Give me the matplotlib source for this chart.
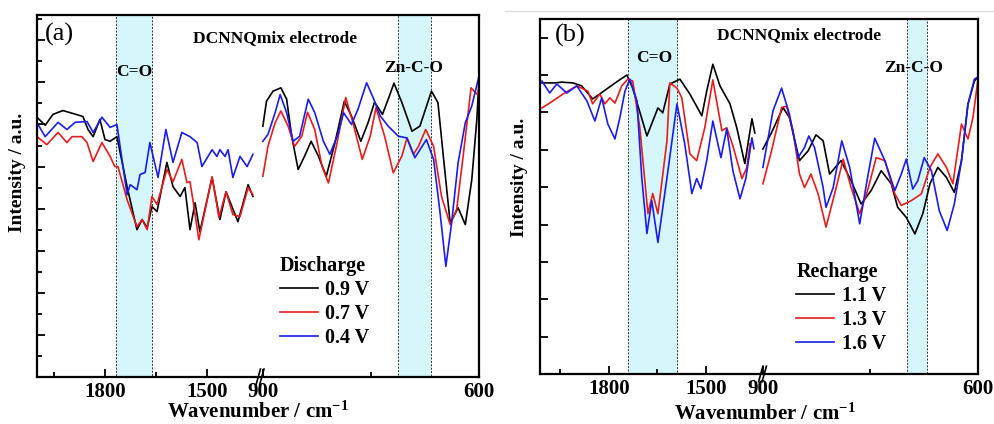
import numpy as np
import matplotlib
matplotlib.use('Agg')
import matplotlib.pyplot as plt
from matplotlib.lines import Line2D
from matplotlib.ticker import FixedLocator, NullFormatter

# ---- panel (a): discharge ----
a_black_lw = [2000, 1976, 1953, 1924, 1894, 1865, 1850, 1835, 1815, 1800, 1785, 1765, 1735, 1706, 1691,
              1676, 1662, 1647, 1618, 1600, 1579, 1565, 1550, 1535, 1521, 1485, 1462, 1444, 1409, 1379, 1365]
a_black_li = [6.17, 5.98, 6.24, 6.33, 6.26, 6.19, 5.88, 5.71, 6.12, 5.64, 5.60, 5.71, 4.52, 3.50, 3.74,
              3.55, 4.05, 3.93, 5.10, 4.52, 4.29, 4.50, 3.50, 4.14, 3.45, 4.74, 3.74, 4.40, 3.69, 4.57, 4.29]
a_red_lw = [1997, 1971, 1938, 1912, 1897, 1868, 1853, 1835, 1809, 1785, 1771, 1762, 1735, 1706, 1691, 1676,
            1662, 1647, 1618, 1600, 1574, 1559, 1550, 1538, 1524, 1485, 1465, 1444, 1424, 1403, 1379, 1365]
a_red_li = [5.69, 5.52, 5.81, 5.57, 5.71, 5.71, 5.57, 5.12, 5.57, 5.24, 5.00, 5.00, 4.21, 3.57, 3.74, 3.50,
            4.29, 4.10, 4.93, 4.64, 5.17, 4.62, 4.64, 4.02, 3.26, 4.76, 3.79, 4.40, 3.86, 3.81, 4.50, 4.33]
a_blue_lw = [1997, 1976, 1938, 1912, 1888, 1853, 1835, 1809, 1785, 1765, 1735, 1726, 1706, 1697, 1682, 1668,
             1644, 1621, 1600, 1574, 1550, 1529, 1515, 1485, 1471, 1462, 1447, 1438, 1424, 1403, 1382, 1365]
a_blue_li = [6.00, 5.71, 6.05, 5.88, 6.05, 6.07, 5.81, 6.17, 5.93, 6.00, 4.33, 4.57, 4.45, 4.81, 4.86, 5.57,
             4.74, 5.88, 5.10, 5.81, 5.71, 5.57, 5.00, 5.40, 5.24, 5.40, 5.24, 5.40, 4.74, 5.24, 5.00, 5.29]

a_black_rw = [900, 895, 886, 875, 867, 860, 851, 842, 833, 823, 812, 800, 787, 777, 764, 754, 745, 734,
              726, 718, 707, 693, 682, 666, 657, 650, 640, 629, 619, 610, 603, 600]
a_black_ri = [5.96, 6.55, 6.79, 6.87, 6.60, 5.72, 4.93, 5.25, 5.60, 5.25, 4.77, 5.56, 6.55, 6.20, 5.60, 6.04,
              6.53, 6.24, 6.60, 6.98, 6.52, 5.84, 5.96, 6.79, 6.52, 5.33, 3.66, 4.02, 3.62, 4.69, 6.12, 7.07]
a_red_rw = [900, 893, 883, 875, 865, 856, 846, 838, 828, 818, 809, 798, 785, 775, 762, 751, 743, 731,
            719, 707, 700, 691, 684, 674, 663, 652, 640, 631, 622, 611, 602, 600]
a_red_ri = [4.77, 5.48, 6.04, 6.32, 5.96, 5.48, 5.72, 6.29, 5.88, 5.01, 4.61, 5.48, 6.64, 6.04, 5.17, 5.72,
            6.40, 5.72, 4.85, 5.25, 5.68, 5.29, 5.48, 5.88, 5.48, 4.29, 3.62, 3.98, 5.25, 6.87, 6.71, 6.82]
a_blue_rw = [900, 893, 883, 876, 867, 858, 849, 837, 828, 816, 807, 795, 788, 777, 768, 756, 747, 737,
             726, 712, 700, 689, 673, 663, 654, 646, 638, 629, 619, 610, 600]
a_blue_ri = [5.60, 5.76, 6.28, 6.71, 6.28, 5.60, 5.72, 6.60, 6.28, 5.60, 5.29, 5.80, 6.28, 6.00, 6.36, 6.99,
             6.64, 6.20, 5.96, 5.72, 5.68, 5.21, 5.64, 5.17, 3.90, 2.63, 3.66, 5.09, 6.04, 6.44, 7.15]

# ---- panel (b): recharge ----
b_black_lw = [2007, 1967, 1946, 1911, 1884, 1850, 1806, 1772, 1744, 1726, 1682, 1648, 1633, 1611, 1580,
              1549, 1512, 1497, 1478, 1456, 1425, 1404, 1379, 1357, 1348]
b_black_li = [7.79, 7.79, 7.81, 7.79, 7.71, 7.36, 7.63, 7.84, 8.00, 7.65, 6.37, 7.12, 6.99, 7.76, 7.89,
              7.49, 6.91, 7.57, 8.29, 7.71, 7.23, 6.59, 5.63, 6.83, 6.45]
b_red_lw = [2007, 1983, 1942, 1899, 1865, 1850, 1828, 1812, 1797, 1781, 1760, 1741, 1726, 1704, 1679, 1664,
            1648, 1620, 1611, 1589, 1574, 1549, 1528, 1503, 1478, 1450, 1435, 1416, 1388, 1373, 1363]
b_red_li = [7.12, 7.25, 7.49, 7.71, 7.57, 7.23, 7.49, 7.23, 7.39, 7.25, 7.71, 7.89, 7.84, 6.59, 4.29, 4.83,
            4.29, 6.24, 7.79, 7.65, 7.39, 5.89, 5.71, 6.59, 7.87, 6.51, 6.59, 6.11, 5.23, 5.52, 6.16]
b_blue_lw = [2007, 1983, 1961, 1930, 1899, 1868, 1843, 1822, 1803, 1781, 1766, 1750, 1735, 1713, 1698, 1682,
             1667, 1648, 1620, 1589, 1565, 1543, 1528, 1515, 1497, 1478, 1453, 1435, 1416, 1394, 1376, 1357, 1351]
b_blue_li = [7.84, 7.52, 7.76, 7.52, 7.71, 7.31, 6.77, 7.39, 6.69, 6.29, 6.85, 7.57, 7.89, 7.31, 5.25, 3.76,
             4.64, 3.52, 5.25, 7.23, 6.16, 4.83, 5.23, 4.96, 5.71, 6.77, 5.79, 6.56, 5.44, 4.69, 5.23, 6.32, 6.03]

b_black_rw = [900, 888, 872, 863, 849, 837, 826, 816, 807, 791, 777, 763, 749, 735, 721, 712, 700, 688,
              677, 667, 656, 644, 633, 623, 614, 605, 600]
b_black_ri = [6.02, 6.46, 7.13, 6.86, 5.71, 5.97, 6.40, 6.24, 5.35, 5.71, 5.17, 4.55, 4.91, 5.44, 5.09, 4.46,
              4.19, 3.75, 4.29, 5.09, 5.53, 5.26, 4.86, 5.71, 7.22, 7.84, 7.95]
b_red_rw = [900, 888, 874, 867, 858, 849, 842, 833, 823, 812, 800, 788, 777, 765, 754, 742, 730, 716,
            707, 693, 679, 667, 656, 644, 635, 623, 614, 607, 600]
b_red_ri = [5.09, 5.97, 7.13, 7.17, 6.51, 5.35, 4.99, 5.35, 4.82, 3.93, 4.82, 5.75, 4.99, 4.29, 4.91, 5.79,
            5.71, 4.82, 4.51, 4.64, 4.82, 5.53, 5.89, 5.53, 5.09, 6.69, 6.29, 6.86, 7.89]
b_blue_rw = [900, 886, 874, 863, 851, 842, 836, 828, 816, 812, 802, 790, 779, 765, 754, 744, 730, 716,
             707, 700, 691, 684, 675, 665, 654, 643, 633, 623, 614, 605, 600]
b_blue_ri = [5.53, 7.04, 7.65, 6.95, 5.79, 6.06, 6.37, 6.06, 4.99, 4.46, 4.99, 6.24, 5.53, 4.02, 5.26, 6.31,
             5.71, 4.91, 5.35, 5.75, 4.95, 5.17, 5.79, 5.44, 4.37, 3.84, 4.55, 5.71, 7.22, 7.89, 7.95]

a_labels = ['0.9 V', '0.7 V', '0.4 V']
b_labels = ['1.1 V', '1.3 V', '1.6 V']
colors = ['black', '#e81c1c', '#1c1ce8']

plt.rcParams['font.family'] = ['Liberation Serif', 'DejaVu Serif']
plt.rcParams['font.weight'] = 'bold'
plt.rcParams['mathtext.fontset'] = 'custom'
plt.rcParams['mathtext.rm'] = 'Liberation Serif:bold'
plt.rcParams['mathtext.default'] = 'rm'


def broken_scale(hi, lo, f1, f2):
    # increasing map: 600..900 -> right piece, lo..hi -> left piece (axis is inverted later)
    xp = [600, 900, lo, hi]
    up = [0, 1 - f2, 1 - f1, 1]

    def fwd(x):
        return np.interp(np.asarray(x, float), xp, up)

    def inv(u):
        return np.interp(np.asarray(u, float), up, xp)
    return fwd, inv


def panel(rect, hi, lo, f1, f2, ymax, ytick_minor, left, right, labels, title,
          tag, co, zn, txt, leg_xy, ylab_xy, xlab_xy):
    ax = fig.add_axes(rect)
    ax.set_xscale('function', functions=broken_scale(hi, lo, f1, f2))
    ax.set_xlim(hi, 600)
    ax.set_ylim(0, ymax)

    for (w, i), (w2, i2), c, lab in zip(left, right, colors, labels):
        ax.plot(w, i, color=c, lw=1.2, label=lab, solid_joinstyle='round')
        ax.plot(w2, i2, color=c, lw=1.2, solid_joinstyle='round')

    for x0, x1 in (co, zn):
        ax.axvspan(x0, x1, facecolor='#d5f7fb', edgecolor='#333333', ls=(0, (2, 1.5)),
                   lw=0.7, zorder=0)

    ax.xaxis.set_major_locator(FixedLocator([1800, 1500, 900, 600]))
    ax.xaxis.set_minor_locator(FixedLocator([1950, 1650, 750]))
    ax.set_xticklabels(['1800', '1500', '900', '600'])
    ax.xaxis.set_minor_formatter(NullFormatter())
    ax.yaxis.set_major_locator(FixedLocator(np.arange(0, ymax, 1)))
    if ytick_minor:
        ax.yaxis.set_minor_locator(FixedLocator(np.arange(0.5, ymax, 1)))
    ax.set_yticklabels([])
    ax.tick_params(which='both', direction='in', top=False, right=False, labelsize=15, width=1.3)
    ax.tick_params(which='major', length=6)
    ax.tick_params(which='minor', length=3.5)
    for s in ax.spines.values():
        s.set_linewidth(1.6)

    # break marks
    xb = (f1 + f2) / 2
    for dx in (-0.006, 0.002):
        ax.plot([xb + dx - 0.004, xb + dx + 0.006], [-0.022, 0.022], color='black', lw=1.2,
                transform=ax.transAxes, clip_on=False)

    ax.set_xlabel('Wavenumber / cm$^{-1}$', fontsize=15, fontweight='bold')
    ax.set_ylabel('Intensity / a.u.', fontsize=14, fontweight='bold')
    ax.xaxis.set_label_coords(*xlab_xy)
    ax.yaxis.set_label_coords(*ylab_xy)

    ax.text(tag[0], tag[1], tag[2], transform=ax.transAxes, fontsize=19, fontweight='normal',
            va='center', ha='left')
    for x, y, s in txt:
        ax.text(x, y, s, transform=ax.transAxes, fontsize=12.5, fontweight='bold',
                ha='center', va='center')

    leg = ax.legend(loc='lower left', bbox_to_anchor=leg_xy, frameon=False, title=title,
                    fontsize=14.5, title_fontproperties={'size': 14.5, 'weight': 'bold'},
                    handlelength=1.9, handletextpad=0.35, labelspacing=0.2,
                    borderaxespad=0, borderpad=0)
    leg._legend_box.align = 'left'
    return ax


fig = plt.figure(figsize=(9.95, 4.24), dpi=100)

panel([0.0372, 0.1108, 0.4442, 0.8538], 2000, 1350, 0.5, 0.511, 8.6, True,
      [(a_black_lw, a_black_li), (a_red_lw, a_red_li), (a_blue_lw, a_blue_li)],
      [(a_black_rw, a_black_ri), (a_red_rw, a_red_ri), (a_blue_rw, a_blue_ri)],
      a_labels, 'Discharge', (0.018, 0.945, '(a)'), (1768, 1662), (713, 667),
      [(0.538, 0.936, 'DCNNQmix electrode'), (0.219, 0.843, 'C=O'), (0.851, 0.854, 'Zn-C-O')],
      (0.55, 0.08), (-0.025, 0.566), (0.5, -0.069))

panel([0.5427, 0.1179, 0.4402, 0.8373], 2013, 1323, 0.509, 0.509, 9.5, False,
      [(b_black_lw, b_black_li), (b_red_lw, b_red_li), (b_blue_lw, b_blue_li)],
      [(b_black_rw, b_black_ri), (b_red_rw, b_red_ri), (b_blue_rw, b_blue_ri)],
      b_labels, 'Recharge', (0.034, 0.955, '(b)'), (1741, 1589), (699, 671),
      [(0.591, 0.955, 'DCNNQmix electrode'), (0.26, 0.89, 'C=O'), (0.852, 0.862, 'Zn-C-O')],
      (0.585, 0.055), (-0.027, 0.555), (0.514, -0.082))

fig.add_artist(Line2D([0.508, 1.0], [0.974, 0.974], color='#dddddd', lw=1.0))

fig.savefig('out.png', dpi=100)
